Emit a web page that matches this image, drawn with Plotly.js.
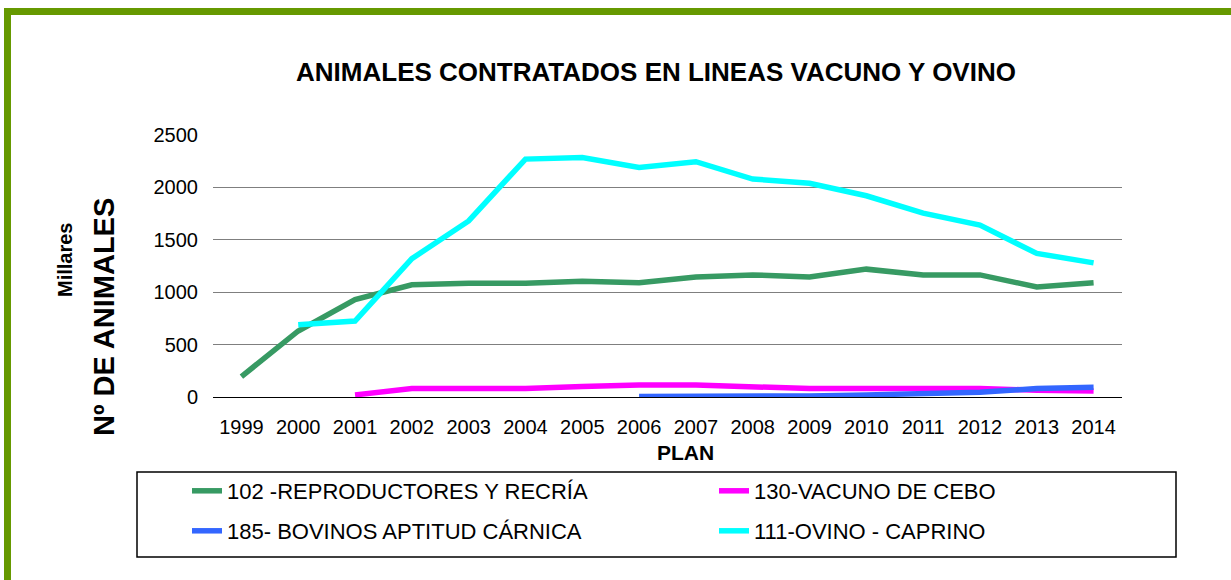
<!DOCTYPE html>
<html>
<head>
<meta charset="utf-8">
<script src="https://cdn.plot.ly/plotly-3.0.1.min.js"></script>
<style>
  body { margin: 0; background: #fff; }
  #frame { position: absolute; left: 4px; top: 8px; width: 1227px; height: 572px;
           border-left: 7px solid #669900; border-top: 7px solid #669900;
           box-sizing: border-box; pointer-events: none; z-index: 5; }
  #plot { position: absolute; left: 0; top: 0; width: 1231px; height: 580px; }
</style>
</head>
<body>
<div id="plot"></div>
<div id="frame"></div>
<script>
// Years on the x axis (PLAN)
const YEARS = ['1999','2000','2001','2002','2003','2004','2005','2006',
               '2007','2008','2009','2010','2011','2012','2013','2014'];

// Values in thousands of animals, null where a line has no point
const REPRODUCTORES = [195, 630, 930, 1070, 1085, 1085, 1105, 1090,
                       1145, 1165, 1145, 1220, 1165, 1165, 1050, 1090];
const VACUNO_CEBO = [null, null, 20, 80, 80, 80, 100, 115,
                     115, 95, 80, 80, 80, 80, 65, 58];
const BOVINOS_CARNICA = [null, null, null, null, null, null, null, 5,
                         5, 5, 10, 20, 30, 45, 80, 92];
const OVINO_CAPRINO = [null, 690, 725, 1320, 1680, 2270, 2285, 2190,
                       2245, 2080, 2040, 1920, 1755, 1640, 1370, 1280];

const FONT = 'Liberation Sans, Arial, sans-serif';

// plot area in pixels, used to turn pixel spots into paper coords
const PLOT_L = 213, PLOT_W = 909, PLOT_B = 397, PLOT_H = 262;
function PX(x) { return (x - PLOT_L) / PLOT_W; }
function PY(y) { return (PLOT_B - y) / PLOT_H; }

function Line(name, y, color, legend) {
  return {
    x: YEARS, y: y, name: name, type: 'scatter', mode: 'lines',
    line: {color: color, width: 5.5}, legend: legend, hoverinfo: 'x+y+name'
  };
}

const traces = [
  Line('102 -REPRODUCTORES Y RECRÍA', REPRODUCTORES, '#379a63', 'legend'),
  Line('130-VACUNO DE CEBO', VACUNO_CEBO, '#ff00ff', 'legend2'),
  Line('185- BOVINOS APTITUD CÁRNICA', BOVINOS_CARNICA, '#3366ff', 'legend3'),
  Line('111-OVINO - CAPRINO', OVINO_CAPRINO, '#00ffff', 'legend4'),
];

// one legend per entry so the 2x2 grid sits where the reference has it
function Legend(x, y) {
  return {
    orientation: 'h', xanchor: 'left', yanchor: 'middle', x: PX(x), y: PY(y),
    bgcolor: 'rgba(0,0,0,0)', borderwidth: 0,
    font: {family: FONT, size: 22, color: '#000'}
  };
}

const LAYOUT = {
  width: 1231, height: 580,
  margin: {l: PLOT_L, r: 1231 - PLOT_L - PLOT_W, t: 135, b: 580 - PLOT_B},
  paper_bgcolor: '#fff', plot_bgcolor: '#fff',
  font: {family: FONT, color: '#000'},
  title: {text: '<b>ANIMALES CONTRATADOS EN LINEAS VACUNO Y OVINO</b>',
          font: {family: FONT, size: 26, color: '#000'},
          x: 656 / 1231, xanchor: 'center', y: 1 - 72 / 580, yanchor: 'middle'},
  xaxis: {type: 'category', range: [-0.5, 15.5], showgrid: false,
          zeroline: false, showline: false, ticks: '', ticklabelstandoff: 16,
          tickfont: {family: FONT, size: 20, color: '#000'}},
  yaxis: {range: [0, 2500], tickvals: [0, 500, 1000, 1500, 2000, 2500],
          showgrid: true, gridcolor: '#7f7f7f', gridwidth: 1,
          zeroline: true, zerolinecolor: '#000', zerolinewidth: 1,
          ticks: '', ticklabelstandoff: 14,
          tickfont: {family: FONT, size: 20, color: '#000'}},
  showlegend: true,
  legend: Legend(187, 491),
  legend2: Legend(714, 491),
  legend3: Legend(187, 531),
  legend4: Legend(714, 531),
  shapes: [{
    type: 'rect', xref: 'paper', yref: 'paper',
    x0: PX(137), x1: PX(1176), y0: PY(557), y1: PY(472),
    line: {color: '#000', width: 1.5}, fillcolor: 'rgba(0,0,0,0)'
  }],
  annotations: [
    {text: '<b>Nº DE ANIMALES</b>', xref: 'paper', yref: 'paper',
     x: PX(104), y: PY(317), xanchor: 'center', yanchor: 'middle', textangle: -90,
     showarrow: false, font: {family: FONT, size: 29, color: '#000'}},
    {text: '<b>Millares</b>', xref: 'paper', yref: 'paper',
     x: PX(65), y: PY(260), xanchor: 'center', yanchor: 'middle', textangle: -90,
     showarrow: false, font: {family: FONT, size: 20, color: '#000'}},
    {text: '<b>PLAN</b>', xref: 'paper', yref: 'paper',
     x: PX(685), y: PY(452), xanchor: 'center', yanchor: 'middle',
     showarrow: false, font: {family: FONT, size: 21, color: '#000'}},
  ],
};

Plotly.newPlot('plot', traces, LAYOUT, {displayModeBar: false, staticPlot: true});
</script>
</body>
</html>
